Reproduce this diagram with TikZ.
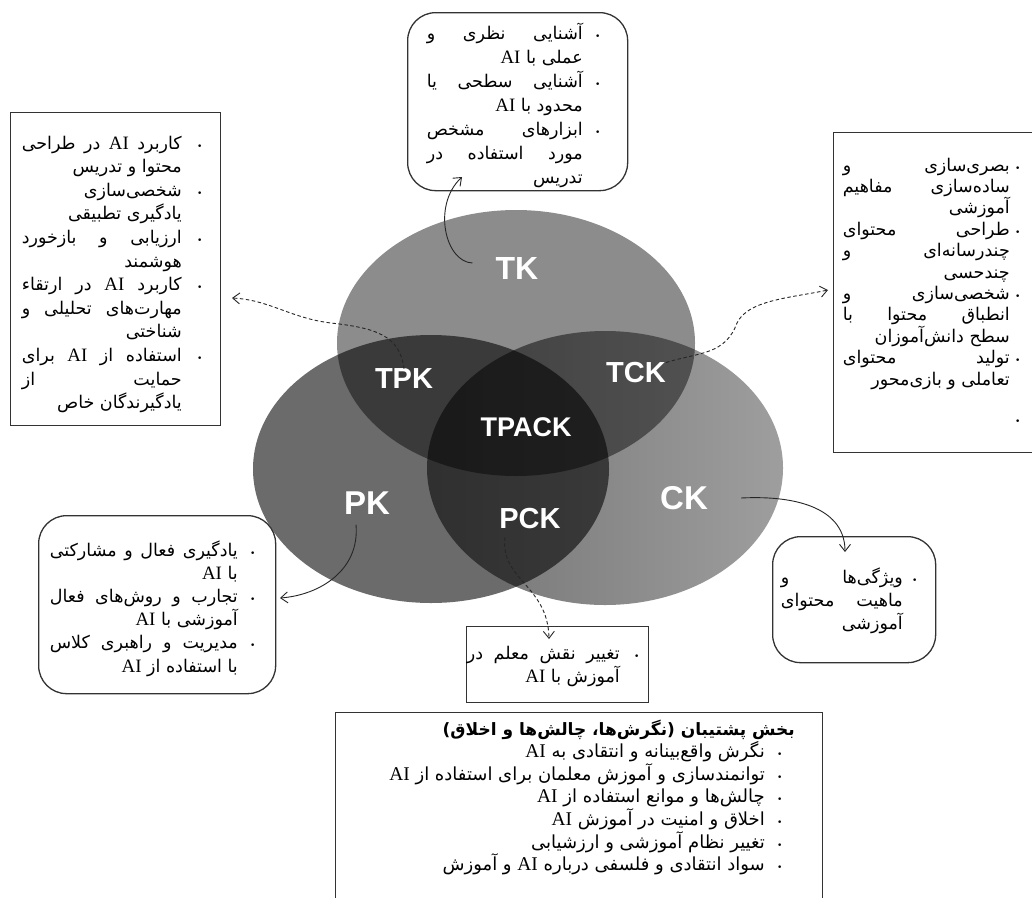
\documentclass[tikz,border=0pt]{standalone}
\usepackage{fontspec}
\usetikzlibrary{arrows.meta}
\TeXXeTstate=1
\newfontfamily\fa[Script=Arabic]{DejaVu Sans}
\newfontfamily\lat[Scale=1.08]{Liberation Serif}
\newfontfamily\lab{Liberation Sans}
\newlength\tw
\newlength\bw
\newcommand\ai{{\lat AI}}
\newcommand\bul{{\fontsize{9}{9}\selectfont •}}
\newcommand\jl[1]{\hbox to \tw{\beginR #1\endR}}
\newcommand\rl[1]{\hbox to \tw{\hfil\beginR #1\endR}}
\newcommand\bpline[1]{\hbox{#1\hbox to \bw{\hfil\bul\hfil}}}
\newcommand\npline[1]{\hbox{#1\hbox to \bw{\hfil}}}
\begin{document}
\begin{tikzpicture}[x=1pt,y=-1pt,
  lbl/.style={text=white, inner sep=0, font=\lab\bfseries\fontsize{#1}{#1}\selectfont},
  ptxt/.style={font=\fa\fontsize{17.5}{20}\selectfont, inner sep=0, anchor=base east},
  boxr/.style={draw=black!80, line width=1.3pt, rounded corners=28pt, inner sep=0, anchor=north west},
  boxs/.style={draw=black!80, line width=1.2pt, inner sep=0, anchor=north west},
  arr/.style={-{Straight Barb[length=7pt,width=11pt]}, line width=0.9pt, draw=black!85},
  darr/.style={arr, dash pattern=on 3.5pt off 2.5pt}]
\useasboundingbox (0,0) rectangle (1032,897);
\fill[white] (0,0) rectangle (1032,897);
% circles
\shade[left color=black!55, right color=black!38] (605,468) ellipse [x radius=178, y radius=137];
\fill[black, fill opacity=0.58] (431,469) ellipse [x radius=178, y radius=134];
\fill[black, fill opacity=0.45] (516,343) ellipse [x radius=179, y radius=133];
% labels
\node[lbl=32] (tk) at (517,268) {TK};
\node[lbl=29] (tpk) at (404,379) {TPK};
\node[lbl=29] (tck) at (636,373) {TCK};
\node[lbl=27] (tpack) at (526,427) {TPACK};
\node[lbl=33] (pk) at (367,503) {PK};
\node[lbl=29] (pck) at (530,519) {PCK};
\node[lbl=33] (ck) at (684,498) {CK};
% boxes
\node[boxr, minimum width=220pt, minimum height=178pt] (tkbox) at (407,12) {};
\node[boxs, minimum width=210pt, minimum height=313pt] (tpkbox) at (10,112) {};
\node[boxs, minimum width=210pt, minimum height=320pt] (tckbox) at (833,132) {};
\node[boxr, minimum width=237pt, minimum height=178pt] (pkbox) at (38,515) {};
\node[boxs, minimum width=182pt, minimum height=76pt] (pckbox) at (466,626) {};
\node[boxr, minimum width=163pt, minimum height=126pt] (ckbox) at (772,536) {};
\node[boxs, minimum width=487pt, minimum height=210pt] (botbox) at (335,712) {};
% box texts
\node[ptxt] (tkt) at (613,39) {\setlength\tw{156pt}\setlength\bw{30pt}\vtop{\baselineskip=24pt\lineskiplimit=-50pt
 \bpline{\jl{آشنایی نظری و}}
 \npline{\rl{عملی با \ai}}
 \bpline{\jl{آشنایی سطحی یا}}
 \npline{\rl{محدود با \ai}}
 \bpline{\jl{ابزارهای مشخص}}
 \npline{\jl{مورد استفاده در}}
 \npline{\rl{تدریس}}}};
\node[ptxt] (tpkt) at (218,149) {\setlength\tw{160pt}\setlength\bw{36pt}\vtop{\baselineskip=23.6pt\lineskiplimit=-50pt
 \bpline{\jl{کاربرد \ai{} در طراحی}}
 \npline{\rl{محتوا و تدریس}}
 \bpline{\rl{شخصی^^^^200cسازی}}
 \npline{\rl{یادگیری تطبیقی}}
 \bpline{\jl{ارزیابی و بازخورد}}
 \npline{\rl{هوشمند}}
 \bpline{\jl{کاربرد \ai{} در ارتقاء}}
 \npline{\jl{مهارت^^^^200cهای تحلیلی و}}
 \npline{\rl{شناختی}}
 \bpline{\jl{استفاده از \ai{} برای}}
 \npline{\jl{حمایت از}}
 \npline{\rl{یادگیرندگان خاص}}}};
\node[ptxt] (tckt) at (1026,171) {\setlength\tw{167pt}\setlength\bw{16pt}\vtop{\baselineskip=21.4pt\lineskiplimit=-50pt
 \bpline{\jl{بصری^^^^200cسازی و}}
 \npline{\jl{ساده^^^^200cسازی مفاهیم}}
 \npline{\rl{آموزشی}}
 \bpline{\jl{طراحی محتوای}}
 \npline{\jl{چندرسانه^^^^200cای و}}
 \npline{\rl{چندحسی}}
 \bpline{\jl{شخصی^^^^200cسازی و}}
 \npline{\jl{انطباق محتوا با}}
 \npline{\rl{سطح دانش^^^^200cآموزان}}
 \bpline{\jl{تولید محتوای}}
 \npline{\rl{تعاملی و بازی^^^^200cمحور}}
 \vskip 18pt
 \bpline{\rl{}}}};
\node[ptxt] (pkt) at (268,556) {\setlength\tw{188pt}\setlength\bw{30pt}\vtop{\baselineskip=23.2pt\lineskiplimit=-50pt
 \bpline{\jl{یادگیری فعال و مشارکتی}}
 \npline{\rl{با \ai}}
 \bpline{\jl{تجارب و روش^^^^200cهای فعال}}
 \npline{\rl{آموزشی با \ai}}
 \bpline{\jl{مدیریت و راهبری کلاس}}
 \npline{\rl{با استفاده از \ai}}}};
\node[ptxt] (pckt) at (654,659) {\setlength\tw{153pt}\setlength\bw{34pt}\vtop{\baselineskip=23pt\lineskiplimit=-50pt
 \bpline{\jl{تغییر نقش معلم در}}
 \npline{\rl{آموزش با \ai}}}};
\node[ptxt] (ckt) at (927,583) {\setlength\tw{122pt}\setlength\bw{24pt}\vtop{\baselineskip=23pt\lineskiplimit=-50pt
 \bpline{\jl{ویژگی^^^^200cها و}}
 \npline{\jl{ماهیت محتوای}}
 \npline{\rl{آموزشی}}}};
\node[ptxt, font=\fa\fontsize{18}{20}\selectfont] (bott) at (795,735) {\setlength\tw{382pt}\setlength\bw{30pt}\vtop{\baselineskip=22.6pt\lineskiplimit=-50pt
 \hbox to \dimexpr\tw+\bw\relax{\hfil\fontsize{17}{20}\selectfont\bfseries\beginR بخش پشتیبان (نگرش^^^^200cها، چالش^^^^200cها و اخلاق)\endR}
 \bpline{\rl{نگرش واقع^^^^200cبینانه و انتقادی به \ai}}
 \bpline{\rl{توانمندسازی و آموزش معلمان برای استفاده از \ai}}
 \bpline{\rl{چالش^^^^200cها و موانع استفاده از \ai}}
 \bpline{\rl{اخلاق و امنیت در آموزش \ai}}
 \bpline{\rl{تغییر نظام آموزشی و ارزشیابی}}
 \bpline{\rl{سواد انتقادی و فلسفی درباره \ai{} و آموزش}}}};
% connector tips
\coordinate (tkTip) at (462,177);
\coordinate (tpkTip) at (232,298);
\coordinate (tckTip) at (828,290);
\coordinate (pkTip) at (280,598);
\coordinate (pckTip) at (549,639);
\coordinate (ckTip) at (845,552);
% connectors
\draw[arr] ([xshift=-23pt,yshift=5pt]tk.west) .. controls (445,262) and (432,205) .. (tkTip);
\draw[darr] (tpk.north) .. controls (400,335) and (375,328) .. (331,323) .. controls (290,318) and (270,300) .. (tpkTip);
\draw[darr] (tck.north east) .. controls (700,352) and (725,355) .. (737,323) .. controls (748,300) and (790,298) .. (tckTip);
\draw[arr] ([xshift=-11pt,yshift=-10pt]pk.south) .. controls (360,570) and (320,595) .. (pkTip);
\draw[darr] ([xshift=-25pt,yshift=-8pt]pck.south) .. controls (500,580) and (548,585) .. (pckTip);
\draw[arr] ([xshift=33pt]ck.east) .. controls (800,495) and (845,510) .. (ckTip);
\end{tikzpicture}
\end{document}
